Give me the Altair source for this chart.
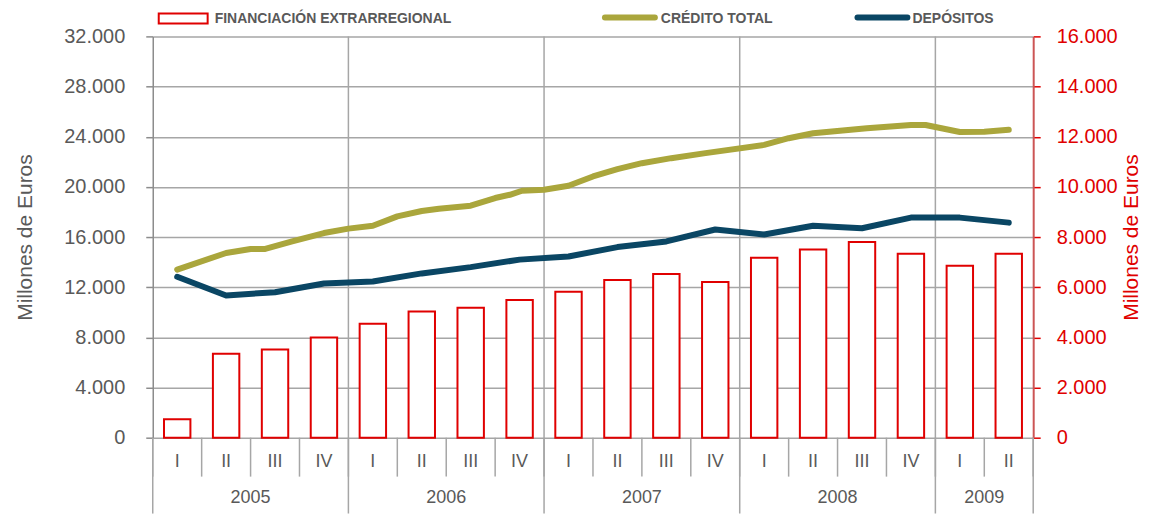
import altair as alt
import pandas as pd

# ---------------- data ----------------
quarters = ["I", "II", "III", "IV", "I", "II", "III", "IV", "I", "II", "III", "IV",
            "I", "II", "III", "IV", "I", "II"]
years = ["2005", "2006", "2007", "2008", "2009"]
quarters_per_year = [4, 4, 4, 4, 2]

# Financiación extrarregional (right axis, millones de euros)
financiacion = [740, 3350, 3520, 3990, 4540, 5030, 5180, 5490, 5820,
                6290, 6530, 6210, 7170, 7500, 7800, 7330, 6860, 7330]

# Crédito total (left axis): position in quarters (0 = 2005 I) and value
credito_pos = [0, 1, 1.5, 1.8, 2.35, 3, 3.5, 4, 4.5, 5, 5.35, 6, 6.5, 6.8, 7.05, 7.5,
               8, 8.5, 9, 9.5, 10.1, 10.8, 12, 12.5, 13, 14.1, 15, 15.3, 16, 16.5, 17]
credito_val = [13400, 14730, 15050, 15050, 15650, 16320, 16670, 16900, 17650, 18080,
               18260, 18500, 19110, 19370, 19690, 19770, 20090, 20830, 21410, 21890,
               22290, 22690, 23350, 23880, 24280, 24670, 24930, 24930, 24380, 24400, 24550]

# Depósitos (left axis), one value per quarter
depositos = [12830, 11340, 11600, 12300, 12450, 13100, 13600, 14200, 14450,
             15200, 15650, 16600, 16200, 16900, 16700, 17550, 17550, 17150]

legend_labels = ["FINANCIACIÓN EXTRARREGIONAL", "CRÉDITO TOTAL", "DEPÓSITOS"]
axis_title = "Millones de Euros"

# ---------------- style ----------------
W, H = 882, 402
RED = "#E00000"
OLIVE = "#AAA63C"
NAVY = "#0A4664"
GRAY_TXT = "#595959"
GRID = "#A6A6A6"
FONT = "Liberation Sans"

n = len(quarters)
xdom = [-0.5, n - 0.5]
xscale = alt.Scale(domain=xdom, nice=False, zero=False)

bars_df = pd.DataFrame({"idx": list(range(n)), "v": financiacion})
cred_df = pd.DataFrame({"pos": credito_pos, "v": credito_val})
dep_df = pd.DataFrame({"pos": list(range(n)), "v": depositos})
q_df = pd.DataFrame({"idx": list(range(n)), "q": quarters})

# boundaries
qb = pd.DataFrame({"b": [i - 0.5 for i in range(n + 1)]})
cum = [0]
for c in quarters_per_year:
    cum.append(cum[-1] + c)
yb_inner = pd.DataFrame({"b": [c - 0.5 for c in cum[1:-1]]})
yb_edge = pd.DataFrame({"b": [cum[0] - 0.5, cum[-1] - 0.5]})
y_df = pd.DataFrame({"year": years,
                     "mid": [(cum[i] + cum[i + 1] - 1) / 2 for i in range(len(years))]})

fmt = "replace(format(datum.value, ','), ',', '.')"

bars = alt.Chart(bars_df).transform_calculate(
    x0="datum.idx - 0.27", x1="datum.idx + 0.27"
).mark_rect(fill="white", stroke=RED, strokeWidth=2).encode(
    x=alt.X("x0:Q", scale=xscale, axis=None),
    x2="x1:Q",
    y=alt.Y("v:Q", scale=alt.Scale(domain=[0, 16000], nice=False, zero=True),
            axis=alt.Axis(orient="right", values=list(range(0, 16001, 2000)),
                          labelExpr=fmt, grid=False,
                          labelColor=RED, labelFont=FONT, labelFontSize=20,
                          labelPadding=16, tickSize=7, tickColor=RED, tickWidth=1.5,
                          domainColor="#CC5555", domainWidth=2,
                          title=axis_title, titleColor=RED, titleFont=FONT,
                          titleFontSize=21, titleFontWeight="normal",
                          titleAngle=270, titlePadding=24)),
    y2=alt.datum(0),
)

lines_axis = alt.Axis(orient="left", values=list(range(0, 32001, 4000)),
                      labelExpr=fmt, grid=True, gridColor=GRID, gridWidth=1.5,
                      labelColor=GRAY_TXT, labelFont=FONT, labelFontSize=20,
                      labelPadding=21, tickSize=7, tickColor="#8C8C8C", tickWidth=1.5,
                      domainColor="#8C8C8C", domainWidth=1.5,
                      title=axis_title, titleColor=GRAY_TXT, titleFont=FONT,
                      titleFontSize=21, titleFontWeight="normal", titlePadding=28)
yl = alt.Scale(domain=[0, 32000], nice=False)

cred = alt.Chart(cred_df).mark_line(color=OLIVE, strokeWidth=6, strokeCap="round",
                                     strokeJoin="round").encode(
    x=alt.X("pos:Q", scale=xscale, axis=None),
    y=alt.Y("v:Q", scale=yl, axis=lines_axis),
)
dep = alt.Chart(dep_df).mark_line(color=NAVY, strokeWidth=6, strokeCap="round",
                                   strokeJoin="round").encode(
    x=alt.X("pos:Q", scale=xscale, axis=None),
    y=alt.Y("v:Q", scale=yl, axis=None),
)

vgrid = alt.Chart(yb_inner).mark_rule(color=GRID, strokeWidth=1.5).encode(
    x=alt.X("b:Q", scale=xscale, axis=None),
    y=alt.value(0), y2=alt.value(H + 76),
)
edges = alt.Chart(yb_edge).mark_rule(color=GRID, strokeWidth=1.5).encode(
    x=alt.X("b:Q", scale=xscale, axis=None),
    y=alt.value(H), y2=alt.value(H + 76),
)
qsep = alt.Chart(qb).mark_rule(color=GRID, strokeWidth=1.5).encode(
    x=alt.X("b:Q", scale=xscale, axis=None),
    y=alt.value(H), y2=alt.value(H + 39),
)
qlab = alt.Chart(q_df).mark_text(font=FONT, fontSize=18, color=GRAY_TXT,
                                  baseline="middle").encode(
    x=alt.X("idx:Q", scale=xscale, axis=None),
    y=alt.value(H + 24),
    text="q:N",
)
ylab = alt.Chart(y_df).mark_text(font=FONT, fontSize=18, color=GRAY_TXT,
                                  baseline="middle").encode(
    x=alt.X("mid:Q", scale=xscale, axis=None),
    y=alt.value(H + 60),
    text="year:N",
)
frame = alt.Chart(pd.DataFrame({"k": [0]})).mark_rule(color=GRID, strokeWidth=1.5).encode(
    x=alt.value(-149), y=alt.value(-36), y2=alt.value(H + 76),
)

# legend
one = pd.DataFrame({"k": [0]})
leg_rect = alt.Chart(one).mark_rect(fill="white", stroke=RED, strokeWidth=2).encode(
    x=alt.value(6), x2=alt.value(55), y=alt.value(-23), y2=alt.value(-13),
)
leg_l1 = alt.Chart(one).mark_rule(color=OLIVE, strokeWidth=6, strokeCap="round").encode(
    x=alt.value(453), x2=alt.value(503), y=alt.value(-19),
)
leg_l2 = alt.Chart(one).mark_rule(color=NAVY, strokeWidth=6, strokeCap="round").encode(
    x=alt.value(706), x2=alt.value(756), y=alt.value(-19),
)
def leg_text(label, xpos):
    return alt.Chart(pd.DataFrame({"t": [label]})).mark_text(
        font=FONT, fontSize=14, fontWeight="bold", color=GRAY_TXT,
        align="left", baseline="alphabetic").encode(
        x=alt.value(xpos), y=alt.value(-13), text="t:N")

chart = alt.layer(
    vgrid, edges, qsep, bars, cred, dep, qlab, ylab, frame,
    leg_rect, leg_l1, leg_l2,
    leg_text(legend_labels[0], 62),
    leg_text(legend_labels[1], 509),
    leg_text(legend_labels[2], 761),
).resolve_scale(y="independent").properties(
    width=W, height=H,
    padding={"left": 145, "top": 28, "right": 115, "bottom": 76},
    autosize=alt.AutoSizeParams(type="none"),
    background="white",
).configure_view(stroke=None)

chart.save("out.html", embed_options={"renderer": "svg", "actions": False})
